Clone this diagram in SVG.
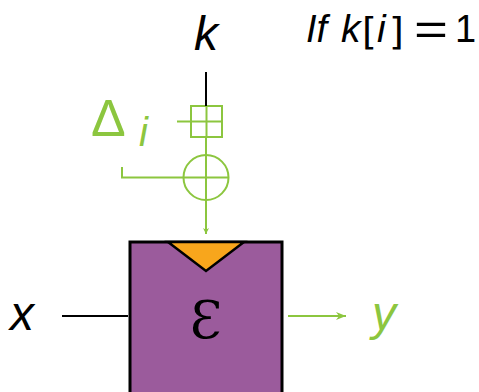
<svg xmlns="http://www.w3.org/2000/svg" width="479" height="392" viewBox="0 0 479 392">
<defs>
<style>
.g{stroke:#8cc63f;stroke-width:2;fill:none}
.k{stroke:#000;stroke-width:2;fill:none}
.t{font-family:"Liberation Sans","DejaVu Sans",sans-serif;font-style:italic}
.u{font-family:"DejaVu Sans","Liberation Sans",sans-serif}
</style>
<marker id="ah" viewBox="0 0 10 10" refX="10" refY="5" markerWidth="6" markerHeight="6" orient="auto" markerUnits="userSpaceOnUse">
<path d="M0,0 L10,5 L0,10 L3,5 Z" fill="#8cc63f"/>
</marker>
<marker id="ah2" viewBox="0 0 10 10" refX="10" refY="5" markerWidth="10" markerHeight="10" orient="auto" markerUnits="userSpaceOnUse">
<path d="M0,1 L10,5 L0,9 L3,5 Z" fill="#8cc63f"/>
</marker>
</defs>
<rect width="479" height="392" fill="#fff"/>
<g id="enc">
<rect x="130" y="242" width="152" height="160" fill="#9b5b9c" stroke="#000" stroke-width="3"/>
<path d="M168,242 L244,242 L206,271 Z" fill="#f8a61c" stroke="#000" stroke-width="2.5" stroke-linejoin="miter"/>
<text x="206" y="338" font-family="DejaVu Serif,serif" font-size="52" text-anchor="middle" fill="#000">Ɛ</text>
</g>
<g id="labels">
<text class="t" x="206" y="50" font-size="48" text-anchor="middle" fill="#000">k</text>
<text class="t" x="306" y="42" font-size="38" fill="#000">If</text>
<text class="t" x="341" y="42" font-size="39" fill="#000">k</text>
<text class="u" x="362" y="44" font-size="38" fill="#000">[</text>
<text class="t" x="377" y="42" font-size="39" fill="#000">i</text>
<text class="u" x="389" y="44" font-size="38" fill="#000">]</text>
<text x="414" y="45" font-family="Liberation Sans,sans-serif" font-size="44" fill="#000" textLength="34" lengthAdjust="spacingAndGlyphs">=</text>
<text x="455" y="42" font-family="Liberation Sans,sans-serif" font-size="38" fill="#000">1</text>
<text x="91" y="136" font-family="Liberation Sans,sans-serif" font-size="52" fill="#8cc63f">Δ</text>
<text class="t" x="139" y="146" font-size="40" fill="#8cc63f">i</text>
<text class="t" x="10" y="330" font-size="48" fill="#000">x</text>
<text class="t" x="372" y="330" font-size="48" fill="#8cc63f">y</text>
</g>
<g id="xor">
<rect class="g" x="191" y="106" width="31" height="31"/>
<line class="g" x1="206.5" y1="106" x2="206.5" y2="137"/>
<line class="g" x1="177" y1="121.5" x2="222" y2="121.5"/>
<circle class="g" cx="206" cy="177.5" r="22.5"/>
<line class="g" x1="183.5" y1="177.5" x2="228.5" y2="177.5"/>
<line class="g" x1="206" y1="155" x2="206" y2="200"/>
</g>
<g id="connectors">
<line class="k" x1="206" y1="72" x2="206" y2="106"/>
<line class="g" x1="206" y1="137" x2="206" y2="155"/>
<polyline class="g" points="122,167 122,177.5 184,177.5"/>
<line class="g" x1="206" y1="200" x2="206" y2="234" marker-end="url(#ah)"/>
<line class="k" x1="62" y1="316" x2="128" y2="316"/>
<line class="g" x1="288" y1="316" x2="346" y2="316" marker-end="url(#ah2)"/>
</g>
</svg>
